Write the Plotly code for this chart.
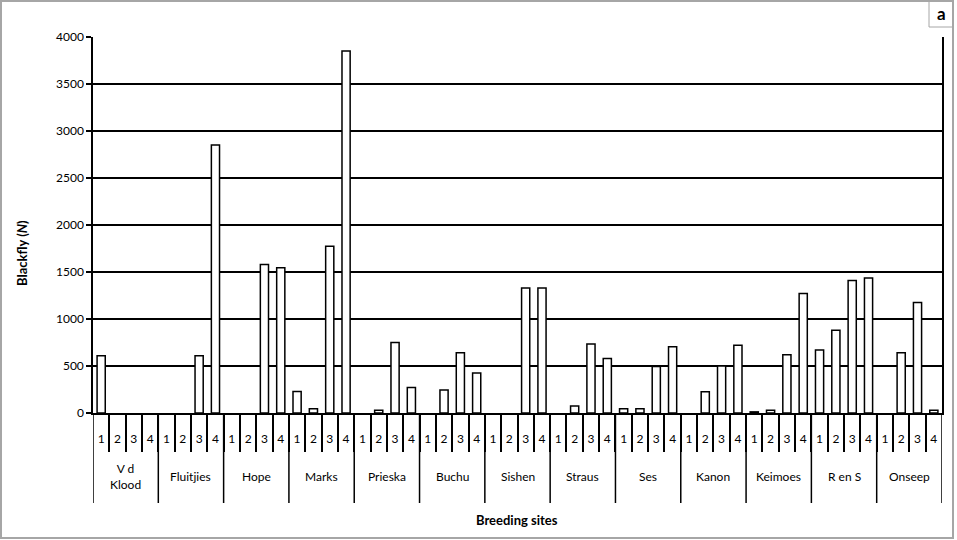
import plotly.graph_objects as go

sites = ["V d Klood", "Fluitjies", "Hope", "Marks", "Prieska", "Buchu", "Sishen",
         "Straus", "Ses", "Kanon", "Keimoes", "R en S", "Onseep"]
site_labels = ["V d<br>Klood", "Fluitjies", "Hope", "Marks", "Prieska", "Buchu", "Sishen",
               "Straus", "Ses", "Kanon", "Keimoes", "R en S", "Onseep"]
periods = ["1", "2", "3", "4"]

vd_klood = [610, 0, 0, 0]
fluitjies = [0, 0, 610, 2850]
hope = [0, 0, 1580, 1545]
marks = [230, 45, 1775, 3850]
prieska = [0, 30, 750, 270]
buchu = [0, 245, 640, 425]
sishen = [0, 0, 1330, 1330]
straus = [0, 75, 735, 580]
ses = [45, 45, 495, 705]
kanon = [0, 225, 500, 720]
keimoes = [12, 28, 620, 1270]
r_en_s = [670, 880, 1410, 1435]
onseep = [0, 640, 1175, 30]

series = [vd_klood, fluitjies, hope, marks, prieska, buchu, sishen,
          straus, ses, kanon, keimoes, r_en_s, onseep]
values = [v for s in series for v in s]
xpos = list(range(len(values)))
tick_text = periods * len(sites)
n = len(values)
per = len(periods)

FONT = "Lato"

fig = go.Figure()
fig.add_trace(go.Bar(
    x=xpos, y=values, width=0.5,
    marker=dict(color="white",
                line=dict(color="black", width=[1.5 if v > 0 else 0 for v in values])),
    hoverinfo="y",
))

# plot area geometry (pixels) used for paper-coordinate conversions
W, H = 957, 540
L, R, T, B = 93, 15, 37, 127
pw, ph = W - L - R, H - T - B

def px_x(x):
    return (x - L) / pw

def px_y(y):
    return (H - B - y) / ph

shapes = []
# group dividers
for k in range(len(sites) + 1):
    shapes.append(dict(type="line", xref="x", yref="paper",
                       x0=k * per - 0.5, x1=k * per - 0.5, y0=0, y1=px_y(503),
                       line=dict(color="black", width=1.5)))
# outer frame
shapes.append(dict(type="rect", xref="paper", yref="paper",
                   x0=px_x(1), x1=px_x(953), y0=px_y(538), y1=px_y(1),
                   line=dict(color="#a6a6a6", width=2)))
# "a" box
shapes.append(dict(type="rect", xref="paper", yref="paper",
                   x0=px_x(929), x1=px_x(953), y0=px_y(27), y1=px_y(1),
                   line=dict(color="#a6a6a6", width=1)))

annotations = []
for k, lab in enumerate(site_labels):
    annotations.append(dict(x=k * per + 1.5, y=px_y(476), xref="x", yref="paper",
                            text=lab, showarrow=False, xanchor="center", yanchor="middle",
                            font=dict(family=FONT, size=12, color="black")))
annotations.append(dict(x=px_x(517), y=px_y(520), xref="paper", yref="paper",
                        text="<b>Breeding sites</b>", showarrow=False,
                        xanchor="center", yanchor="middle",
                        font=dict(family=FONT, size=13, color="black")))
annotations.append(dict(x=px_x(22), y=px_y(253), xref="paper", yref="paper",
                        text="<b>Blackfly (<i>N</i>)</b>", showarrow=False, textangle=-90,
                        xanchor="center", yanchor="middle",
                        font=dict(family=FONT, size=13, color="black")))
annotations.append(dict(x=px_x(941), y=px_y(14), xref="paper", yref="paper",
                        text="<b>a</b>", showarrow=False,
                        xanchor="center", yanchor="middle",
                        font=dict(family=FONT, size=17, color="black")))

fig.update_layout(
    width=W, height=H,
    margin=dict(l=L, r=R, t=T, b=B),
    paper_bgcolor="white", plot_bgcolor="white",
    showlegend=False,
    font=dict(family=FONT, size=12, color="black"),
    xaxis=dict(
        range=[-0.5, n - 0.5],
        tickmode="array", tickvals=xpos, ticktext=tick_text,
        ticks="outside", ticklen=14, tickcolor="rgba(0,0,0,0)",
        tickfont=dict(family=FONT, size=12),
        showline=True, linecolor="black", linewidth=1.5,
        showgrid=False, zeroline=False,
        minor=dict(tickmode="array", tickvals=[i - 0.5 for i in range(1, n)],
                   ticks="outside", ticklen=37, tickcolor="black", tickwidth=1.5,
                   showgrid=False),
    ),
    yaxis=dict(
        range=[0, 4000], dtick=500,
        showgrid=True, gridcolor="black", gridwidth=1.5,
        showline=True, linecolor="black", linewidth=1.5, mirror=True,
        ticks="outside", ticklen=5, tickcolor="black", tickwidth=1.5,
        tickfont=dict(family=FONT, size=12),
        zeroline=False,
    ),
    shapes=shapes,
    annotations=annotations,
)

fig.write_html("out.html", config={"displayModeBar": False},
               post_script="document.body.style.margin='0';document.body.style.overflow='hidden';")
